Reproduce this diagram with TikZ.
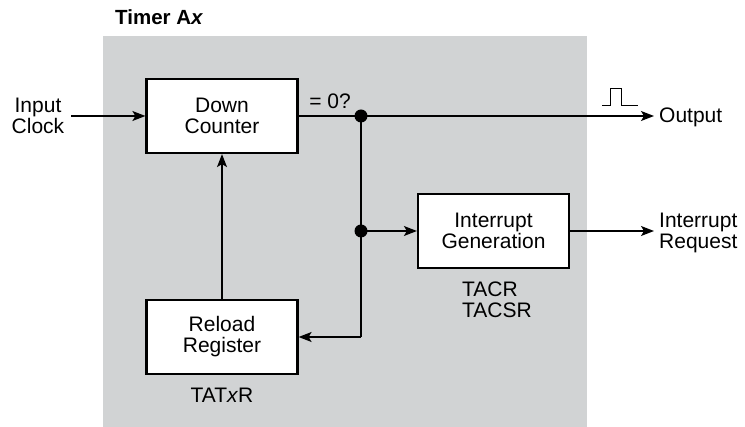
\documentclass[tikz,border=0pt]{standalone}
\usepackage{fontspec}
\setmainfont{Liberation Sans}
\usetikzlibrary{arrows.meta}
\definecolor{panel}{RGB}{209,211,212}
\begin{document}
\begin{tikzpicture}[x=1pt,y=-1pt,
  box/.style={draw, line width=2.2pt, fill=white, minimum width=151pt, minimum height=74pt, inner sep=0pt, align=center},
  wire/.style={line width=1.3pt},
  arr/.style={wire, -{Stealth[length=13pt,width=10pt,inset=3pt]}},
  lbl/.style={align=center, inner sep=0pt},
  dot/.style={circle, fill, inner sep=0pt, minimum size=13pt},
  font=\fontsize{21}{21}\selectfont]
\useasboundingbox (0,0) rectangle (745,427);
\fill[panel] (103,36) rectangle (587,427);
\node[anchor=base west, inner sep=0pt, font=\bfseries\fontsize{20.5}{21}\selectfont] (title) at (115,25) {Timer A\textit{x}};
\node[box] (dc) at (222,116) {Down\\Counter};
\node[box] (rr) at (222,337) {Reload\\Register};
\node[box] (ig) at (493.5,231) {Interrupt\\Generation};
\node[lbl] (in) at (38,116) {Input\\Clock};
\node[lbl, anchor=base west] (out) at (659,123) {Output};
\node[lbl, anchor=west] (ir) at (659,233) {Interrupt\\Request};
\node[lbl, anchor=base] (eq) at (330,109) {= 0?};
\node[lbl, anchor=base] (tat) at (222,403) {TAT\textit{x}R};
\node[lbl, align=left, anchor=north west] (tacr) at (462,282) {TACR\\TACSR};
\coordinate (j1) at (361,116);
\coordinate (j2) at (361,231);
\coordinate (j3) at (361,337);
\coordinate (oe) at (654,116);
\coordinate (ie) at (654,231);
\coordinate (ins) at (71,116);
\draw[arr] (ins) -- (dc.west);
\draw[wire] (dc.east) -- (j1);
\draw[arr] (j1) -- (oe);
\draw[wire] (j1) -- (j3);
\draw[arr] (j3) -- (rr.east);
\draw[arr] (j2) -- (ig.west);
\draw[arr] (ig.east) -- (ie);
\draw[arr] (rr.north) -- (dc.south);
\node[dot] (d1) at (j1) {};
\node[dot] (d2) at (j2) {};
\draw[line width=1pt] (602,106) -- (610,106) -- (610,89) -- (621,89) -- (621,106) -- (638,106);
\end{tikzpicture}
\end{document}
